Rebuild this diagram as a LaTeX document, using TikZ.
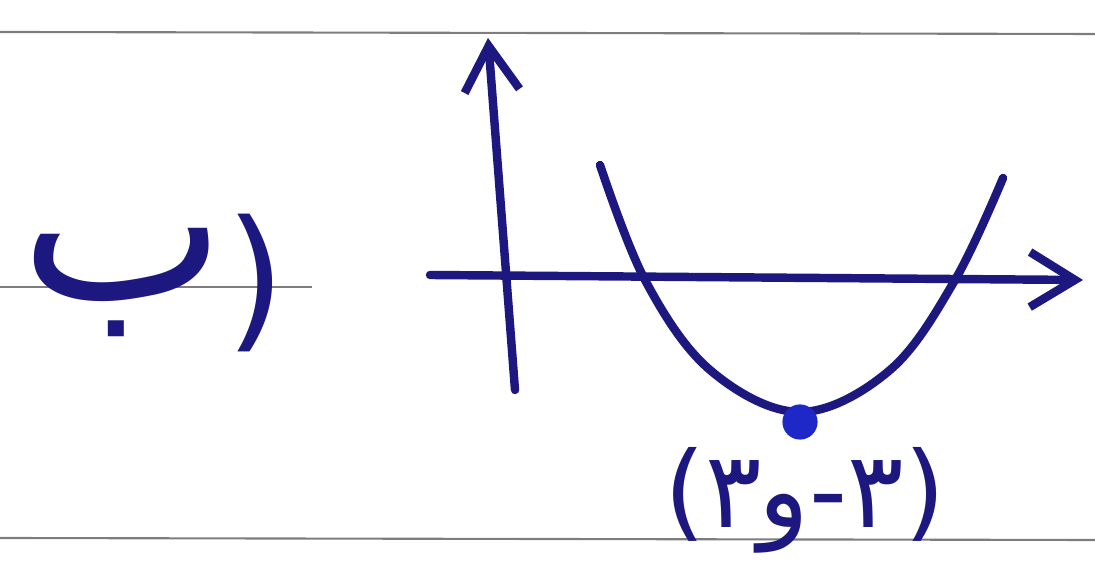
\documentclass[tikz,border=0pt]{standalone}
\usepackage{fontspec}
\usetikzlibrary{arrows.meta,positioning}
\newfontfamily\farsifont[Script=Arabic]{DejaVu Sans}
\newfontfamily\plainfont{DejaVu Sans}
\definecolor{ink}{RGB}{28,24,128}
\definecolor{dotblue}{RGB}{30,40,200}
\definecolor{rule}{RGB}{125,125,125}
\tikzset{
  pen/.style={draw=ink, line width=2.4pt, line cap=round, line join=round},
  axis/.style={pen, -{Straight Barb[length=4.5mm,width=5.5mm,line width=2.4pt]}},
  ruling/.style={draw=rule, line width=0.6pt},
  hand/.style={text=ink, inner sep=0pt, font=\farsifont\fontsize{30}{34}\selectfont}
}
\begin{document}
\begin{tikzpicture}[x=0.01cm, y=-0.01cm]
  \useasboundingbox (0,0) rectangle (1095,565);
  % notebook lines
  \coordinate (t1) at (0,32);   \coordinate (t2) at (1095,34);
  \coordinate (b1) at (0,538);  \coordinate (b2) at (1095,540);
  \coordinate (m1) at (0,287);  \coordinate (m2) at (312,287);
  \draw[ruling] (t1) -- (t2);
  \draw[ruling] (b1) -- (b2);
  \draw[ruling] (m1) -- (m2);

  % item label
  \node[hand, anchor=base west, font=\farsifont\fontsize{62}{66}\selectfont] (item) at (20,300)
    {\hbox{ب}\hbox{\kern0pt\plainfont\fontsize{44}{50}\selectfont\raise-9pt\hbox{)}}};

  % axes
  \coordinate (ybot) at (515,390);
  \coordinate (ytop) at (488,38);
  \coordinate (xleft) at (430,275);
  \coordinate (xright) at (1083,280);
  \draw[axis] (ybot) -- (ytop);
  \draw[axis] (xleft) -- (xright);

  % parabola
  \draw[pen] plot[smooth, tension=0.6] coordinates
    {(600,165) (645,280) (710,370) (800,412) (890,370) (955,280) (1003,178)};

  % vertex
  \node[circle, fill=dotblue, inner sep=0pt, minimum size=10pt] (vtx) at (800,422) {};
  \node[hand] (vlabel) at (805,500)
    {\hbox{\plainfont (}\hbox{۳}\hbox{\kern-1pt و}\hbox{\plainfont -}\hbox{۳}\hbox{\plainfont )}};
\end{tikzpicture}
\end{document}
